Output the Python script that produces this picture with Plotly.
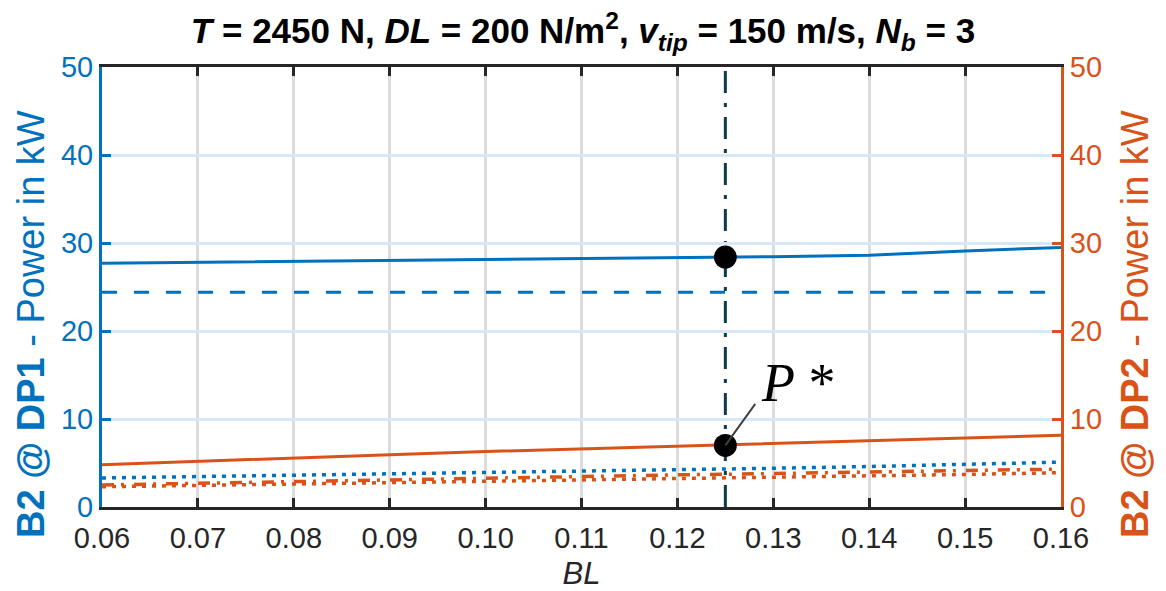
import plotly.graph_objects as go

BL = [0.06, 0.07, 0.08, 0.09, 0.10, 0.11, 0.12, 0.13, 0.14, 0.15, 0.16]
dp1_solid = [27.7, 27.8, 27.9, 28.0, 28.1, 28.2, 28.3, 28.45, 28.6, 29.1, 29.5]
dp1_dashed = [24.4] * 11
dp1_dotted = [3.3, 3.45, 3.6, 3.75, 3.9, 4.05, 4.2, 4.4, 4.6, 4.85, 5.1]
dp2_solid = [4.8, 5.2, 5.6, 5.95, 6.3, 6.6, 6.9, 7.2, 7.5, 7.85, 8.15]
dp2_dashdot = [2.5, 2.7, 2.9, 3.1, 3.3, 3.5, 3.65, 3.8, 4.0, 4.15, 4.3]
dp2_dotted = [2.3, 2.45, 2.6, 2.75, 2.9, 3.05, 3.2, 3.35, 3.5, 3.7, 3.9]
BL_opt = 0.125
P_dp1 = 28.4
P_dp2 = 7.0

BLUE = "#0072BD"
ORANGE = "#D95319"
DARK = "#262626"
VLINE = "#0F3A4C"
FONT = "Liberation Sans"

W, H = 1166, 591
ML, MR, MT, MB = 102, 105, 67, 84
PW, PH = W - ML - MR, H - MT - MB

def px_x(p):
    return (p - ML) / PW

def px_y(p):
    return (H - MB - p) / PH

fig = go.Figure()

def add(y, color, dash, axis, width=3):
    fig.add_trace(go.Scatter(x=BL, y=y, mode="lines", yaxis=axis,
                             line=dict(color=color, width=width, dash=dash),
                             showlegend=False, hoverinfo="skip"))

add(dp1_solid, BLUE, "solid", "y")
add(dp1_dashed, BLUE, "15px,17px", "y")
add(dp1_dotted, BLUE, "4px,6px", "y", 3.5)
add(dp2_solid, ORANGE, "solid", "y2")
add(dp2_dashdot, ORANGE, "12px,7px,3px,10px", "y2", 3.5)
add(dp2_dotted, ORANGE, "4px,6px", "y2", 3.5)

fig.add_shape(type="line", xref="x", yref="y", x0=BL_opt, x1=BL_opt, y0=0, y1=50,
              line=dict(color=VLINE, width=3, dash="22px,10px,4px,10px"), layer="below")

fig.add_trace(go.Scatter(x=[BL_opt], y=[P_dp1], mode="markers", yaxis="y",
                         marker=dict(color="black", size=23), showlegend=False))
fig.add_trace(go.Scatter(x=[BL_opt], y=[P_dp2], mode="markers", yaxis="y2",
                         marker=dict(color="black", size=23), showlegend=False))

# pointer line for P*
fig.add_annotation(x=BL_opt, y=P_dp2, xref="x", yref="y2", text="",
                   showarrow=True, arrowhead=0, arrowwidth=2, arrowcolor="#404040",
                   ax=31, ay=-43, standoff=0, startstandoff=0)
# label P*
fig.add_annotation(x=px_x(798), y=px_y(383), xref="paper", yref="paper",
                   text="<i>P</i> *", showarrow=False, xanchor="center", yanchor="middle",
                   font=dict(family="Liberation Serif", size=54, color="black"))

# axis titles as rotated annotations
fig.add_annotation(x=px_x(31), y=px_y(324), xref="paper", yref="paper",
                   text="<b>B2 @ DP1</b> - Power in kW", textangle=-90, showarrow=False,
                   xanchor="center", yanchor="middle",
                   font=dict(family=FONT, size=38, color=BLUE))
fig.add_annotation(x=px_x(1135), y=px_y(324), xref="paper", yref="paper",
                   text="<b>B2 @ DP2</b> - Power in kW", textangle=-90, showarrow=False,
                   xanchor="center", yanchor="middle",
                   font=dict(family=FONT, size=38, color=ORANGE))

fig.update_layout(
    width=W, height=H,
    margin=dict(l=ML, r=MR, t=MT, b=MB, autoexpand=False),
    plot_bgcolor="white", paper_bgcolor="white",
    title=dict(text="<b><i>T</i> = 2450 N, <i>DL</i> = 200 N/m<sup>2</sup>, <i>v</i><sub><i>tip</i></sub> = 150 m/s, <i>N</i><sub><i>b</i></sub> = 3</b>",
               x=0.5, xanchor="center", y=1 - 31 / H, yanchor="middle",
               font=dict(family=FONT, size=35, color="black")),
    xaxis=dict(range=[0.06, 0.16], dtick=0.01, tick0=0.06, tickformat=".2f",
               automargin=False,
               showgrid=True, gridcolor="#DCDCDC", gridwidth=3,
               showline=True, linecolor=DARK, linewidth=3, mirror="ticks",
               ticks="inside", ticklen=9, tickwidth=3, tickcolor=DARK,
               tickfont=dict(family=FONT, size=29, color=DARK), ticklabelstandoff=3,
               zeroline=False,
               title=dict(text="<i>BL</i>", font=dict(family=FONT, size=31, color=DARK), standoff=12)),
    yaxis=dict(range=[0, 50], dtick=10, automargin=False,
               showgrid=True, gridcolor="#D8E7F4", gridwidth=3,
               showline=True, linecolor=BLUE, linewidth=3,
               ticks="inside", ticklen=9, tickwidth=3, tickcolor=BLUE,
               tickfont=dict(family=FONT, size=29, color=BLUE), zeroline=False),
    yaxis2=dict(range=[0, 50], dtick=10, overlaying="y", side="right", showgrid=False,
                automargin=False,
                showline=True, linecolor=ORANGE, linewidth=3,
                ticks="inside", ticklen=9, tickwidth=3, tickcolor=ORANGE,
                tickfont=dict(family=FONT, size=29, color=ORANGE), zeroline=False),
)

fig.write_html("out.html")
